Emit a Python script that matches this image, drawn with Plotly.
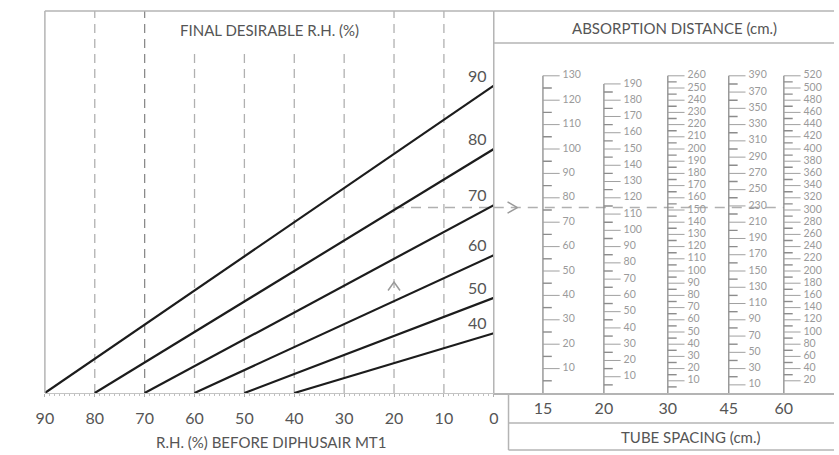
import plotly.graph_objects as go

# ---------------- data ----------------
# Final desirable R.H. (%) lines: start at R.H. before = final R.H., rise to the
# absorption distance (15 cm tube-spacing units) reached at 0 % initial R.H.
final_rh = [90, 80, 70, 60, 50, 40]
distance_at_zero_rh = [126.0, 100.0, 77.0, 56.5, 39.0, 24.5]

rh_ticks = [90, 80, 70, 60, 50, 40, 30, 20, 10, 0]
grid_full = [80, 70, 20, 10]
grid_short = [60, 50, 40, 30]

# Absorption-distance scales, one per tube spacing
tube_spacing = [15, 20, 30, 45, 60]
scale_factor = [1.0, 1.5, 2.0, 3.0, 4.0]
scale_labels = [
    list(range(10, 131, 10)),
    list(range(10, 191, 10)),
    list(range(10, 261, 10)),
    list(range(10, 391, 20)),
    list(range(20, 521, 20)),
]
scale_minor = [
    list(range(5, 130, 10)),
    list(range(5, 190, 10)),
    list(range(5, 260, 10)),
    list(range(20, 390, 20)),
    list(range(30, 520, 20)),
]

# worked example: 20 % initial R.H. read across at 76 cm
example_rh = 20
example_distance = 76

# ---------------- geometry (pixels) ----------------
W, H = 839, 455
LEFT, MID, RIGHT = 36.5, 493, 839
TOP, BASE = 11, 393
PX_PER_CM = 2.44
Y_TOP = (BASE - TOP) / PX_PER_CM
SHORT_GRID_TOP = (BASE - 52) / PX_PER_CM
col_x = [543, 605, 670, 732, 788]

FONT = "Lato, 'Open Sans', sans-serif"
INK = "#1c1c1c"
GREY_TXT = "#555555"
LIGHT_TXT = "#9a9a9a"
FRAME = "#b4b4b4"
GRID = "#b0b0b0"


def px(x):
    return x / W


def py(y):
    return 1 - y / H


fig = go.Figure()

# R.H. lines
for f, d in zip(final_rh, distance_at_zero_rh):
    fig.add_trace(go.Scatter(x=[f, 0], y=[0, d], mode="lines",
                             line=dict(color=INK, width=2.2),
                             xaxis="x", yaxis="y", hoverinfo="skip"))

# scale columns
for cx, fac, labs, mins in zip(col_x, scale_factor, scale_labels, scale_minor):
    top = max(labs) / fac
    fig.add_trace(go.Scatter(x=[cx, cx], y=[0, top], mode="lines",
                             line=dict(color="#8a8a8a", width=1.3),
                             xaxis="x2", yaxis="y", hoverinfo="skip"))
    tx, ty = [], []
    for v in labs:
        tx += [cx, cx + 17, None]
        ty += [v / fac, v / fac, None]
    fig.add_trace(go.Scatter(x=tx, y=ty, mode="lines",
                             line=dict(color="#a0a0a0", width=1),
                             xaxis="x2", yaxis="y", hoverinfo="skip"))
    mx, my = [], []
    for v in mins:
        mx += [cx, cx + 9, None]
        my += [v / fac, v / fac, None]
    fig.add_trace(go.Scatter(x=mx, y=my, mode="lines",
                             line=dict(color="#8c8c8c", width=1.4),
                             xaxis="x2", yaxis="y", hoverinfo="skip"))
    fig.add_trace(go.Scatter(x=[cx + 20] * len(labs), y=[v / fac for v in labs],
                             mode="text", text=[str(v) for v in labs],
                             textposition="middle right",
                             textfont=dict(family=FONT, size=10.5, color=LIGHT_TXT),
                             xaxis="x2", yaxis="y", hoverinfo="skip"))

# example arrows (chevrons)
fig.add_trace(go.Scatter(x=[example_rh + 1.2, example_rh, example_rh - 1.2],
                         y=[example_distance - 34, example_distance - 30.5, example_distance - 34],
                         mode="lines", line=dict(color="#9a9a9a", width=1.5),
                         xaxis="x", yaxis="y", hoverinfo="skip"))
fig.add_trace(go.Scatter(x=[507, 517, 507],
                         y=[example_distance + 2.3, example_distance, example_distance - 2.3],
                         mode="lines", line=dict(color="#9a9a9a", width=1.5),
                         xaxis="x2", yaxis="y", hoverinfo="skip"))

shapes = []
# dashed verticals
for g in grid_full:
    shapes.append(dict(type="line", xref="x", yref="y", x0=g, x1=g, y0=0, y1=Y_TOP,
                       line=dict(color="#8a8a8a" if g == 70 else GRID, width=1.3,
                                 dash="9px,6px"), layer="below"))
for g in grid_short:
    shapes.append(dict(type="line", xref="x", yref="y", x0=g, x1=g, y0=0, y1=SHORT_GRID_TOP,
                       line=dict(color=GRID, width=1.3, dash="9px,6px"), layer="below"))
# dashed example reading line
shapes.append(dict(type="line", xref="x", yref="y", x0=example_rh, x1=0,
                   y0=example_distance, y1=example_distance,
                   line=dict(color=GRID, width=1.6, dash="10px,7px"), layer="below"))
shapes.append(dict(type="line", xref="x2", yref="y", x0=MID, x1=col_x[-1],
                   y0=example_distance, y1=example_distance,
                   line=dict(color=GRID, width=1.6, dash="10px,7px"), layer="below"))

# frames
frame_segments = [
    ((LEFT, TOP), (MID, TOP)),
    ((LEFT, TOP), (LEFT, BASE)),
    ((MID, TOP), (MID, BASE)),
    ((MID, TOP), (RIGHT, TOP)),
    ((MID, 43), (RIGHT, 43)),
    ((508, BASE), (508, 450)),
    ((508, 423), (RIGHT, 423)),
    ((508, 450), (RIGHT, 450)),
]
for (x0, y0), (x1, y1) in frame_segments:
    shapes.append(dict(type="line", xref="paper", yref="paper",
                       x0=px(x0), x1=px(x1), y0=py(y0), y1=py(y1),
                       line=dict(color=FRAME, width=1.5)))

annotations = []
for f, d in zip(final_rh, distance_at_zero_rh):
    annotations.append(dict(x=0, y=d, xref="x", yref="y", text=str(f), showarrow=False,
                            xanchor="right", yanchor="bottom", xshift=-5, yshift=-1,
                            font=dict(family=FONT, size=16, color=GREY_TXT)))

titles = [
    ("FINAL DESIRABLE R.H. (%)", 265, 30),
    ("R.H. (%) BEFORE DIPHUSAIR MT1", 266, 442),
    ("ABSORPTION DISTANCE (cm.)", 677, 28),
    ("TUBE SPACING (cm.)", 693, 437),
]
for t, x, y in titles:
    annotations.append(dict(x=px(x), y=py(y), xref="paper", yref="paper", text=t,
                            showarrow=False, xanchor="center", yanchor="middle",
                            font=dict(family=FONT, size=15, color=GREY_TXT)))

fig.update_layout(
    width=W, height=H,
    margin=dict(l=0, r=0, t=0, b=0),
    paper_bgcolor="white", plot_bgcolor="white",
    showlegend=False,
    shapes=shapes,
    annotations=annotations,
    xaxis=dict(domain=[px(LEFT), px(MID)], range=[90, 0], anchor="y",
               tickvals=rh_ticks, ticktext=[str(v) for v in rh_ticks],
               tickfont=dict(family=FONT, size=16, color=GREY_TXT),
               ticks="outside", ticklen=3, tickcolor="#b0b0b0",
               minor=dict(dtick=1, ticks="outside", ticklen=2, tickcolor="#c0c0c0"),
               showline=True, linecolor="#c4c4c4", linewidth=1,
               showgrid=False, zeroline=False, ticklabelstandoff=8),
    xaxis2=dict(domain=[px(MID), 1], range=[MID, RIGHT], anchor="y",
                tickvals=col_x, ticktext=[str(s) for s in tube_spacing],
                tickfont=dict(family=FONT, size=16, color=GREY_TXT),
                ticks="", showline=True, linecolor=FRAME, linewidth=1.5,
                showgrid=False, zeroline=False, ticklabelstandoff=0),
    yaxis=dict(domain=[py(BASE), py(TOP)], range=[0, Y_TOP], anchor="x",
               visible=False, showgrid=False, zeroline=False),
)

fig.write_html("out.html")
